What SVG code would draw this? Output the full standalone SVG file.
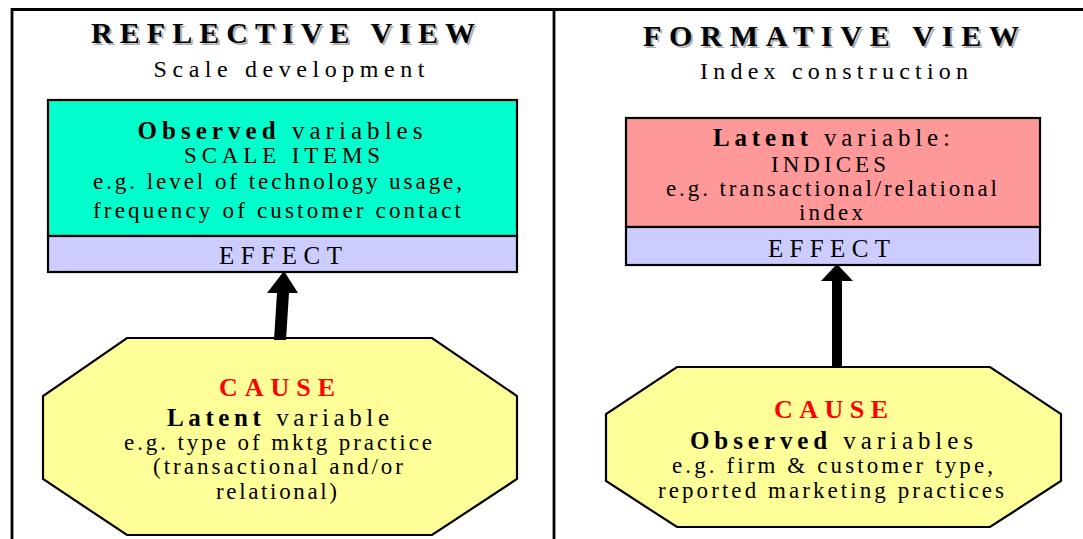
<svg xmlns="http://www.w3.org/2000/svg" width="1083" height="539" viewBox="0 0 1083 539">
<style>
text{font-family:"Liberation Serif","Times New Roman",serif;fill:#000;}
.title{font-size:30px;font-weight:bold;}
.shadow{fill:#b0b0b0;}
.sub{font-size:24px;}
.t{font-size:23px;}
.big{font-size:25px;}
.b{font-weight:bold;}
.cause{font-size:26px;font-weight:bold;fill:#ff0000;}
.box{stroke:#000;stroke-width:2.2;}
.frame{stroke:#000;stroke-width:2.8;fill:none;}
.arrow{fill:#000;stroke:none;}
</style>
<rect x="0" y="0" width="1083" height="539" fill="#fff"/>
<g id="frame">
<polyline class="frame" points="12,539 12,9.5 1083,9.5"/>
<line class="frame" x1="554" y1="9" x2="554" y2="539"/>
</g>
<g id="reflective-title">
<text class="title shadow" x="285" y="45" text-anchor="middle" textLength="384" lengthAdjust="spacing">REFLECTIVE VIEW</text>
<text class="title" x="283" y="43" text-anchor="middle" textLength="384" lengthAdjust="spacing">REFLECTIVE VIEW</text>
<text class="sub" x="289" y="77" text-anchor="middle" textLength="271" lengthAdjust="spacing">Scale development</text>
</g>
<g id="formative-title">
<text class="title shadow" x="833" y="48" text-anchor="middle" textLength="376" lengthAdjust="spacing">FORMATIVE VIEW</text>
<text class="title" x="831" y="46" text-anchor="middle" textLength="376" lengthAdjust="spacing">FORMATIVE VIEW</text>
<text class="sub" x="834" y="79" text-anchor="middle" textLength="268" lengthAdjust="spacing">Index construction</text>
</g>
<g id="observed-effect">
<rect class="box" x="48" y="100" width="469" height="136" fill="#00ffcc"/>
<rect class="box" x="48" y="236" width="469" height="36" fill="#ccccff"/>
<text class="big" x="280" y="139" text-anchor="middle" textLength="285" lengthAdjust="spacing"><tspan class="b">Observed</tspan> variables</text>
<text class="t" x="282" y="163" text-anchor="middle" textLength="196" lengthAdjust="spacing">SCALE ITEMS</text>
<text class="t" x="277.5" y="189" text-anchor="middle" textLength="369" lengthAdjust="spacing">e.g. level of technology usage,</text>
<text class="t" x="277" y="218" text-anchor="middle" textLength="368" lengthAdjust="spacing">frequency of customer contact</text>
<text class="big" x="280.5" y="264" text-anchor="middle" textLength="123" lengthAdjust="spacing">EFFECT</text>
</g>
<g id="latent-cause">
<polygon class="box" fill="#ffff99" points="127,338 432,338 517,396 517,479 432,535 127,535 43,479 43,396"/>
<text class="cause" x="277" y="396" text-anchor="middle" textLength="116" lengthAdjust="spacing">CAUSE</text>
<text class="big" x="278" y="426" text-anchor="middle" textLength="222" lengthAdjust="spacing"><tspan class="b">Latent</tspan> variable</text>
<text class="t" x="278" y="450" text-anchor="middle" textLength="308" lengthAdjust="spacing">e.g. type of mktg practice</text>
<text class="t" x="278" y="474" text-anchor="middle" textLength="250" lengthAdjust="spacing">(transactional and/or</text>
<text class="t" x="276.5" y="499" text-anchor="middle" textLength="121" lengthAdjust="spacing">relational)</text>
</g>
<g id="latent-effect">
<rect class="box" x="626" y="118" width="414" height="109" fill="#ff9999"/>
<rect class="box" x="626" y="227" width="414" height="38" fill="#ccccff"/>
<text class="big" x="831.5" y="146" text-anchor="middle" textLength="237" lengthAdjust="spacing"><tspan class="b">Latent</tspan> variable:</text>
<text class="t" x="828.5" y="172" text-anchor="middle" textLength="115" lengthAdjust="spacing">INDICES</text>
<text class="t" x="831.5" y="196" text-anchor="middle" textLength="331" lengthAdjust="spacing">e.g. transactional/relational</text>
<text class="t" x="831" y="220" text-anchor="middle" textLength="64" lengthAdjust="spacing">index</text>
<text class="big" x="829" y="257" text-anchor="middle" textLength="122" lengthAdjust="spacing">EFFECT</text>
</g>
<g id="observed-cause">
<polygon class="box" fill="#ffff99" points="677,367 990,367 1061,414 1061,481 990,527 677,527 606,481 606,414"/>
<text class="cause" x="831" y="418" text-anchor="middle" textLength="114" lengthAdjust="spacing">CAUSE</text>
<text class="big" x="831.5" y="449" text-anchor="middle" textLength="283" lengthAdjust="spacing"><tspan class="b">Observed</tspan> variables</text>
<text class="t" x="832.5" y="473" text-anchor="middle" textLength="321" lengthAdjust="spacing">e.g. firm &amp; customer type,</text>
<text class="t" x="831" y="498" text-anchor="middle" textLength="346" lengthAdjust="spacing">reported marketing practices</text>
</g>
<g id="connectors">
<polygon class="arrow" points="284,271 298,293 289,293 286,340 274,340 277,293 267,293"/>
<polygon class="arrow" points="837,264 853,281 842,281 842,367 832,367 832,281 821,281"/>
</g>
</svg>
